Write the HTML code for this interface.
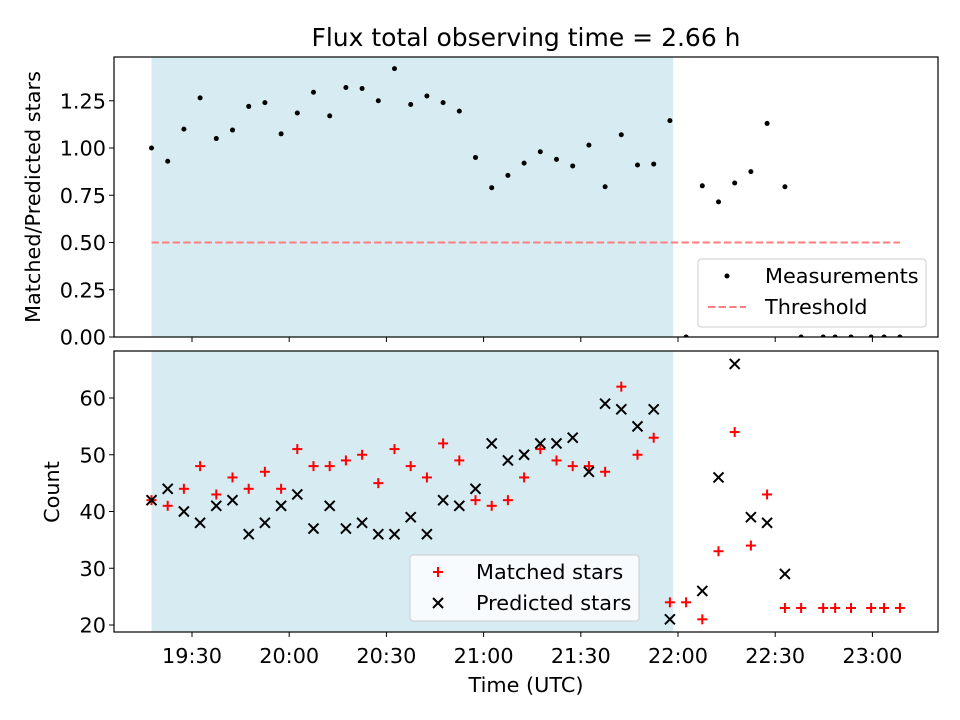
<!DOCTYPE html>
<html><head><meta charset="utf-8"><style>
body{margin:0;background:#fff}
svg{display:block;font-family:"DejaVu Sans","Liberation Sans",sans-serif}
</style></head><body>
<svg id="c" width="960" height="720"></svg>
<script>
// minutes after 19:00
const times=[17.5,22.5,27.5,32.5,37.5,42.5,47.5,52.5,57.5,62.5,67.5,72.5,77.5,82.5,87.5,92.5,97.5,102.5,107.5,112.5,117.5,122.5,127.5,132.5,137.5,142.5,147.5,152.5,157.5,162.5,167.5,172.5,177.5,182.5,187.5,192.5,197.5,202.5,207.5,213,218,224.8,228.5,233.4,239.6,243.6,248.5];
const ratio=[1.00,0.93,1.10,1.265,1.05,1.095,1.22,1.24,1.075,1.185,1.295,1.17,1.32,1.315,1.25,1.42,1.23,1.275,1.24,1.195,0.95,0.79,0.855,0.92,0.98,0.94,0.905,1.015,0.795,1.07,0.91,0.915,1.145,0,0.80,0.715,0.815,0.875,1.13,0.795,0,0,0,0,0,0,0];
const matched=[42,41,44,48,43,46,44,47,44,51,48,48,49,50,45,51,48,46,52,49,42,41,42,46,51,49,48,48,47,62,50,53,24,24,21,33,54,34,43,23,23,23,23,23,23,23,23];
const predicted=[42,44,40,38,41,42,36,38,41,43,37,41,37,38,36,36,39,36,42,41,44,52,49,50,52,52,53,47,59,58,55,58,21,null,26,46,66,39,38,29,null,null,null,null,null,null,null];
const threshold=0.5;
const shade=[17.5,178.5];
const xTicks=[30,60,90,120,150,180,210,240];
const xTickLabels=["19:30","20:00","20:30","21:00","21:30","22:00","22:30","23:00"];
const topTicks=[0,0.25,0.5,0.75,1.0,1.25];
const botTicks=[20,30,40,50,60];

const svg=document.getElementById('c');const NS='http://www.w3.org/2000/svg';
function el(t,a,txt,p){const e=document.createElementNS(NS,t);for(const k in a)e.setAttribute(k,a[k]);if(txt!=null)e.textContent=txt;(p||svg).appendChild(e);return e;}
const L=114,R=938;
const X=m=>192+(m-30)*3.24;
const T={top:57,bot:337},B={top:351,bot:632};
const Yt=v=>337-v*189;
const Yb=v=>625-(v-20)*5.675;
const FS=20.8;

for(const P of [T,B]){const r=el('rect',{x:X(shade[0]),y:P.top,width:X(shade[1])-X(shade[0]),height:P.bot-P.top,fill:'#add8e6','fill-opacity':0.5});}
const defs=el('defs',{});
const cp=el('clipPath',{id:'ct'},null,defs);el('rect',{x:L,y:T.top-4,width:R-L,height:T.bot-T.top+4},null,cp);
const g1=el('g',{'clip-path':'url(#ct)'});
const th=el('line',{x1:X(17.5),x2:X(248.5),y1:Yt(threshold),y2:Yt(threshold),stroke:'#ff7f7f','stroke-width':2,'stroke-dasharray':'7.4,3.2'},null,g1);

times.forEach((t,i)=>{const c=el('circle',{cx:X(t),cy:Yt(ratio[i]),r:2.5,fill:'#000'},null,g1);});
function plus(x,y){const g=el('g',{stroke:'red','stroke-width':2});el('line',{x1:x-5,x2:x+5,y1:y,y2:y},null,g);el('line',{x1:x,x2:x,y1:y-5,y2:y+5},null,g);return g;}
function cross(x,y){const g=el('g',{stroke:'#000','stroke-width':2});el('line',{x1:x-5,x2:x+5,y1:y-5,y2:y+5},null,g);el('line',{x1:x-5,x2:x+5,y1:y+5,y2:y-5},null,g);return g;}
times.forEach((t,i)=>{const g=plus(X(t),Yb(matched[i]));
 if(predicted[i]!=null){const h=cross(X(t),Yb(predicted[i]));}});
for(const P of [T,B]){const r=el('rect',{x:L,y:P.top,width:R-L,height:P.bot-P.top,fill:'none',stroke:'#000','stroke-width':1.2});}
xTicks.forEach((m,i)=>{for(const P of [T,B])el('line',{x1:X(m),x2:X(m),y1:P.bot,y2:P.bot+5,stroke:'#000'});
 const t=el('text',{x:X(m),y:B.bot+31,'text-anchor':'middle','font-size':FS},xTickLabels[i]);});
topTicks.forEach(v=>{el('line',{x1:L-5,x2:L,y1:Yt(v),y2:Yt(v),stroke:'#000'});const t=el('text',{x:L-8,y:Yt(v)+7.5,'text-anchor':'end','font-size':FS},v.toFixed(2));});
botTicks.forEach(v=>{el('line',{x1:L-5,x2:L,y1:Yb(v),y2:Yb(v),stroke:'#000'});const t=el('text',{x:L-8,y:Yb(v)+7.5,'text-anchor':'end','font-size':FS},v);});
</script>
<svg width="960" height="720" style="position:absolute;left:0;top:0">
<text x="526" y="46" text-anchor="middle" font-size="25" font-family="DejaVu Sans,Liberation Sans,sans-serif">Flux total observing time = 2.66 h</text>
<text x="526" y="692" text-anchor="middle" font-size="20.8" font-family="DejaVu Sans,Liberation Sans,sans-serif">Time (UTC)</text>
<text transform="translate(40,197) rotate(-90)" text-anchor="middle" font-size="20.8" font-family="DejaVu Sans,Liberation Sans,sans-serif">Matched/Predicted stars</text>
<text transform="translate(59,492) rotate(-90)" text-anchor="middle" font-size="20.8" font-family="DejaVu Sans,Liberation Sans,sans-serif">Count</text>
<g font-family="DejaVu Sans,Liberation Sans,sans-serif" font-size="20.8">
<rect x="698" y="259" width="228" height="68" rx="3" fill="#fff" fill-opacity="0.8" stroke="#ccc"/>
<circle cx="727" cy="276" r="2.5" fill="#000"/>
<text x="765" y="283">Measurements</text>
<line x1="708" x2="746" y1="307" y2="307" stroke="#ff7f7f" stroke-width="2" stroke-dasharray="7.4,3.2"/>
<text x="765" y="314">Threshold</text>
</g>
<g font-family="DejaVu Sans,Liberation Sans,sans-serif" font-size="20.8">
<rect x="410" y="555" width="229" height="66" rx="3" fill="#fff" fill-opacity="0.8" stroke="#ccc"/>
<g stroke="red" stroke-width="2"><line x1="433" x2="443" y1="572" y2="572"/><line x1="438" x2="438" y1="567" y2="577"/></g>
<text x="476" y="579">Matched stars</text>
<g stroke="#000" stroke-width="2"><line x1="433" x2="443" y1="598" y2="608"/><line x1="433" x2="443" y1="608" y2="598"/></g>
<text x="476" y="610">Predicted stars</text>
</g>
</svg>
</body></html>
